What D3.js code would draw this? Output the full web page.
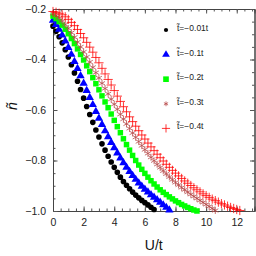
<!DOCTYPE html>
<html>
<head>
<meta charset="utf-8">
<script src="https://cdn.jsdelivr.net/npm/d3@7"></script>
<style>
  body { margin: 0; background: #fff; }
  text { font-family: "Liberation Sans", Arial, sans-serif; }
</style>
</head>
<body>
<div id="chart"></div>
<script>
const w = 256;
const h = 256;

// U/t grid (step 0.2) shared by all series
const uValues = [0, 0.2, 0.4, 0.6, 0.8, 1.0, 1.2, 1.4, 1.6, 1.8, 2.0, 2.2, 2.4, 2.6, 2.8, 3.0,
  3.2, 3.4, 3.6, 3.8, 4.0, 4.2, 4.4, 4.6, 4.8, 5.0, 5.2, 5.4, 5.6, 5.8, 6.0, 6.2, 6.4, 6.6,
  6.8, 7.0, 7.2, 7.4, 7.6, 7.8, 8.0, 8.2, 8.4, 8.6, 8.8, 9.0, 9.2, 9.4, 9.6, 9.8, 10.0,
  10.2, 10.4, 10.6, 10.8, 11.0, 11.2, 11.4, 11.6, 11.8, 12.0, 12.2];

const nT001 = [-0.268, -0.288, -0.310, -0.334, -0.361, -0.390, -0.421, -0.453, -0.486, -0.519,
  -0.553, -0.586, -0.618, -0.649, -0.679, -0.707, -0.734, -0.759, -0.783, -0.806, -0.827,
  -0.847, -0.866, -0.883, -0.898, -0.912, -0.925, -0.937, -0.948, -0.958, -0.967, -0.976,
  -0.985, -0.994];

const nT01 = [-0.245, -0.262, -0.281, -0.303, -0.327, -0.353, -0.380, -0.408, -0.436, -0.465,
  -0.494, -0.523, -0.551, -0.579, -0.606, -0.633, -0.658, -0.683, -0.706, -0.729, -0.750,
  -0.771, -0.790, -0.809, -0.827, -0.844, -0.860, -0.875, -0.889, -0.902, -0.914, -0.925,
  -0.936, -0.946, -0.956, -0.966, -0.976, -0.986, -0.996];

const nT02 = [-0.228, -0.238, -0.250, -0.264, -0.280, -0.298, -0.317, -0.337, -0.358, -0.380,
  -0.402, -0.425, -0.448, -0.472, -0.496, -0.520, -0.544, -0.568, -0.591, -0.616, -0.641,
  -0.666, -0.690, -0.714, -0.737, -0.759, -0.780, -0.800, -0.818, -0.835, -0.851, -0.866,
  -0.880, -0.893, -0.905, -0.916, -0.926, -0.935, -0.944, -0.952, -0.960, -0.967, -0.974,
  -0.980, -0.986, -0.991, -0.996, -1.000];

const nT03 = [-0.218, -0.226, -0.236, -0.248, -0.262, -0.277, -0.294, -0.312, -0.331, -0.350,
  -0.370, -0.390, -0.410, -0.431, -0.452, -0.473, -0.494, -0.515, -0.536, -0.557, -0.577,
  -0.597, -0.617, -0.636, -0.655, -0.673, -0.691, -0.708, -0.725, -0.741, -0.757, -0.772,
  -0.787, -0.801, -0.815, -0.828, -0.841, -0.853, -0.865, -0.876, -0.887, -0.897, -0.907,
  -0.916, -0.925, -0.934, -0.942, -0.950, -0.958, -0.966, -0.974, -0.982, -0.990, -0.998];

const nT04 = [-0.210, -0.213, -0.217, -0.223, -0.231, -0.241, -0.253, -0.266, -0.281, -0.297,
  -0.314, -0.332, -0.351, -0.371, -0.392, -0.413, -0.435, -0.457, -0.479, -0.501, -0.523,
  -0.545, -0.566, -0.587, -0.607, -0.627, -0.646, -0.664, -0.682, -0.699, -0.715, -0.731,
  -0.746, -0.761, -0.775, -0.789, -0.802, -0.815, -0.827, -0.839, -0.850, -0.861, -0.871,
  -0.881, -0.890, -0.899, -0.908, -0.916, -0.924, -0.932, -0.939, -0.946, -0.953, -0.959,
  -0.965, -0.971, -0.976, -0.981, -0.986, -0.990, -0.994, -0.998];

const seriesLabels = ["\u22120.01t", "\u22120.1t", "\u22120.2t", "\u22120.3t", "\u22120.4t"];
const xTicks = [0, 2, 4, 6, 8, 10, 12];
const yTicks = [-1.0, -0.8, -0.6, -0.4, -0.2];

const series = [
  { values: nT001, symbol: d3.symbolCircle, size: 25, fill: "#000", stroke: "none", legendSize: 14 },
  { values: nT01, symbol: d3.symbolTriangle, size: 30, fill: "#0000ff", stroke: "none", legendSize: 26 },
  { values: nT02, symbol: d3.symbolSquare, size: 30, fill: "#00ff00", stroke: "none", legendSize: 32 },
  { values: nT03, symbol: d3.symbolAsterisk, size: 34, fill: "none", stroke: "#b84a4a", legendSize: 16 },
  { values: nT04, symbol: d3.symbolPlus, size: 30, fill: "none", stroke: "#ff0000", legendSize: 24 }
];

const pLeft = 53, pRight = 254.5, pTop = 9, pBottom = 211;

const xScale = d3.scaleLinear().domain([0, 13.16]).range([pLeft, pRight]);
const yScale = d3.scaleLinear().domain([-1.0, -0.2]).range([pBottom, pTop]);

const svg = d3.select("#chart")
  .append("svg")
  .attr("width", w)
  .attr("height", h);

// minor + major ticks, inward, all four sides
const fmtY = d3.format(".1f");
const xMinorVals = d3.range(0, 13.1, 0.5);
const yMinorVals = d3.range(-1.0, -0.19, 0.05);

svg.append("g").attr("transform", `translate(0,${pBottom})`)
  .call(d3.axisBottom(xScale).tickValues(xMinorVals).tickSize(-2.5).tickFormat(""));
svg.append("g").attr("transform", `translate(0,${pTop})`)
  .call(d3.axisTop(xScale).tickValues(xMinorVals).tickSize(-2.5).tickFormat(""));
svg.append("g").attr("transform", `translate(${pLeft},0)`)
  .call(d3.axisLeft(yScale).tickValues(yMinorVals).tickSize(-2.5).tickFormat(""));
svg.append("g").attr("transform", `translate(${pRight},0)`)
  .call(d3.axisRight(yScale).tickValues(yMinorVals).tickSize(-2.5).tickFormat(""));

svg.append("g").attr("class", "xaxis")
  .attr("transform", `translate(0,${pBottom})`)
  .call(d3.axisBottom(xScale).tickValues(xTicks).tickSize(-4.5).tickPadding(8).tickFormat(d3.format("d")));
svg.append("g").attr("transform", `translate(0,${pTop})`)
  .call(d3.axisTop(xScale).tickValues(xTicks).tickSize(-4.5).tickFormat(""));
svg.append("g").attr("class", "yaxis")
  .attr("transform", `translate(${pLeft},0)`)
  .call(d3.axisLeft(yScale).tickValues(yTicks).tickSize(-4.5).tickPadding(7).tickFormat(d => fmtY(d)));
svg.append("g").attr("transform", `translate(${pRight},0)`)
  .call(d3.axisRight(yScale).tickValues(yTicks).tickSize(-4.5).tickFormat(""));

svg.selectAll(".domain").attr("stroke", "#444");
svg.selectAll(".tick line").attr("stroke", "#555");
svg.selectAll(".xaxis .tick text, .yaxis .tick text")
  .attr("font-size", 10.5)
  .attr("fill", "#222")
  .attr("font-family", "Liberation Sans, Arial, sans-serif");

// data markers
series.forEach((s) => {
  const sym = d3.symbol().type(s.symbol).size(s.size);
  svg.append("g")
    .selectAll("path")
    .data(s.values)
    .enter()
    .append("path")
    .attr("d", sym)
    .attr("transform", (d, i) => `translate(${xScale(uValues[i])},${yScale(d)})`)
    .attr("fill", s.fill)
    .attr("stroke", s.stroke)
    .attr("stroke-width", s.stroke === "none" ? 0 : 0.8);
});

// legend
const legend = svg.append("g");
series.forEach((s, i) => {
  const ly = 30 + i * 24.6;
  legend.append("path")
    .attr("d", d3.symbol().type(s.symbol).size(s.legendSize))
    .attr("transform", `translate(166,${ly})`)
    .attr("fill", s.fill)
    .attr("stroke", s.stroke)
    .attr("stroke-width", s.stroke === "none" ? 0 : 0.8);
  legend.append("text")
    .attr("x", 177)
    .attr("y", ly + 1)
    .attr("font-size", 8.5)
    .attr("fill", "#222")
    .text("t\u0303=" + seriesLabels[i]);
});

// axis titles
svg.append("text")
  .attr("x", (pLeft + pRight) / 2)
  .attr("y", 250)
  .attr("text-anchor", "middle")
  .attr("font-size", 14)
  .attr("fill", "#111")
  .text("U/t");

svg.append("text")
  .attr("transform", "translate(17,106) rotate(-90)")
  .attr("text-anchor", "middle")
  .attr("font-size", 14)
  .attr("font-style", "italic")
  .attr("fill", "#111")
  .text("\u00f1");
</script>
</body>
</html>
